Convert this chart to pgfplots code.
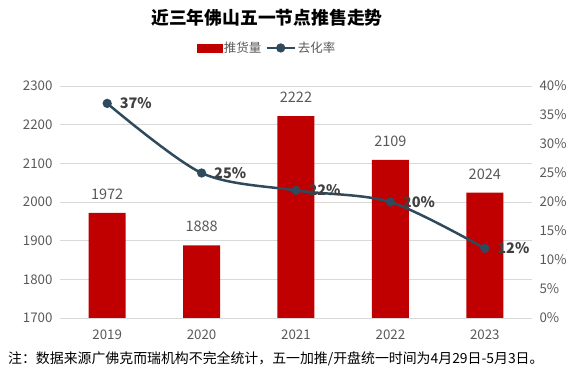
\documentclass[border=0pt]{standalone}
\usepackage{fontspec}
\setmainfont{Noto Sans CJK SC}
\usepackage{pgfplots}
\pgfplotsset{compat=1.18}
\definecolor{barred}{HTML}{C00000}
\definecolor{linec}{HTML}{2F4A5C}
\definecolor{txt}{HTML}{595959}
\definecolor{lbl}{HTML}{404040}
\definecolor{gridc}{HTML}{D9D9D9}
\begin{document}
\begin{tikzpicture}
\path[use as bounding box] (0,0) rectangle (575bp,376bp);
\node[font=\fontsize{17.8bp}{21bp}\selectfont\bfseries, text=black] at (267bp,358bp) {近三年佛山五一节点推售走势};
\node[font=\fontsize{13.9bp}{16bp}\selectfont, text=black, anchor=west, inner sep=0pt] at (8bp,17bp) {注：数据来源广佛克而瑞机构不完全统计，五一加推/开盘统一时间为4月29日-5月3日。};
\begin{axis}[
  at={(60bp,58bp)}, anchor=south west,
  scale only axis, width=472bp, height=232bp,
  xmin=-0.5, xmax=4.5, ymin=1700, ymax=2300,
  ytick={1700,1800,...,2300},
  xtick={0,1,2,3,4},
  xticklabels={2019,2020,2021,2022,2023},
  axis y line*=left, axis x line*=bottom,
  axis line style={draw=none},
  major tick style={draw=none},
  ymajorgrids, grid style={gridc, line width=0.8pt},
  /pgf/number format/assume math mode=true,
  /pgf/number format/1000 sep={},
  ticklabel style={font=\fontsize{13.3bp}{15bp}\selectfont, text=txt},
  yticklabel style={xshift=-4bp},
  xticklabel style={yshift=-4bp},
  ybar, bar width=37bp,
]
\addplot[fill=barred, draw=none,
  nodes near coords,
  every node near coord/.append style={font=\fontsize{14.5bp}{16bp}\selectfont, text=txt, yshift=10bp}]
  coordinates {(0,1972) (1,1888) (2,2222) (3,2109) (4,2024)};
\end{axis}
\begin{axis}[
  at={(60bp,58bp)}, anchor=south west,
  scale only axis, width=472bp, height=232bp,
  xmin=-0.5, xmax=4.5, ymin=0, ymax=40,
  ytick={0,5,...,40},
  yticklabel={\pgfmathprintnumber{\tick}\%},
  axis y line*=right, axis x line=none,
  axis line style={draw=none},
  major tick style={draw=none},
  /pgf/number format/assume math mode=true,
  ticklabel style={font=\fontsize{13.3bp}{15bp}\selectfont, text=txt},
  yticklabel style={xshift=4bp},
  legend style={at={(rel axis cs:0.4386,1.164)}, anchor=center, draw=none, fill=none,
    font=\fontsize{12.5bp}{14bp}\selectfont, text=txt, legend columns=2,
    /tikz/every even column/.append style={column sep=2bp}},
  legend cell align=left,
]
\addlegendimage{legend image code/.code={\fill[barred] (0bp,-4bp) rectangle (25bp,4bp);}}
\addlegendentry{推货量}
\addplot[color=linec, line width=2.5bp, smooth, mark=*, mark size=3.3bp,
  mark options={fill=linec, draw=linec},
  legend image code/.code={\draw[linec, line width=2.5bp] (0bp,0bp) -- (28bp,0bp); \fill[linec] (14bp,0bp) circle (3.3bp);},
  nodes near coords={\pgfmathprintnumber{\pgfplotspointmeta}\%},
  every node near coord/.append style={font=\fontsize{14.5bp}{16bp}\selectfont\bfseries, text=lbl, anchor=west, xshift=8bp}]
  coordinates {(0,37) (1,25) (2,22) (3,20) (4,12)};
\addlegendentry{去化率}
\end{axis}
\end{tikzpicture}
\end{document}
